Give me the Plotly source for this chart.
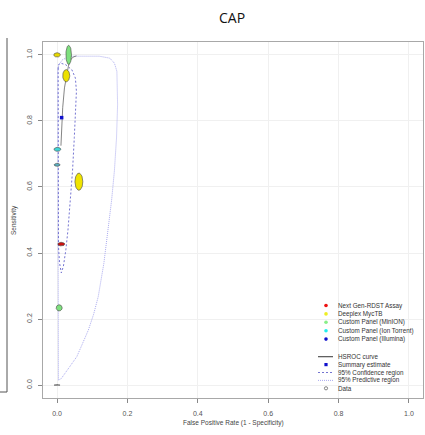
import numpy as np
import plotly.graph_objects as go

# ---------------- data ----------------
study_fpr = [0.012, 0.000, 0.026, 0.062, 0.033, 0.006, 0.001, 0.000, 0.000]
study_sens = [0.427, 1.000, 0.937, 0.616, 1.000, 0.234, 0.714, 0.667, 0.000]
study_rx = [0.0100, 0.0095, 0.0100, 0.0112, 0.0080, 0.0085, 0.0098, 0.0085, 0.0085]
study_ry = [0.0055, 0.0065, 0.0185, 0.0260, 0.0290, 0.0095, 0.0060, 0.0045, 0.0008]
study_fill = ["#cc1111", "#e6d800", "#ece000", "#f0e400", "#7ee07e", "#7ee07e", "#3fd6d6", "#5ab0c0", "#111111"]

summary_fpr = [0.013]
summary_sens = [0.810]

hsroc_fpr = [0.011, 0.013, 0.016, 0.021, 0.027, 0.032, 0.037, 0.045, 0.055]
hsroc_sens = [0.725, 0.78, 0.84, 0.90, 0.94, 0.965, 0.983, 0.993, 0.997]

conf_fpr = [0.003, 0.003, 0.003, 0.004, 0.007, 0.012, 0.018, 0.025, 0.031, 0.037, 0.044, 0.049, 0.052, 0.055, 0.052, 0.042, 0.025, 0.010, 0.004, 0.003]
conf_sens = [0.96, 0.70, 0.48, 0.42, 0.37, 0.34, 0.36, 0.41, 0.47, 0.55, 0.65, 0.75, 0.83, 0.89, 0.93, 0.955, 0.97, 0.975, 0.97, 0.96]

pred_fpr = [0.002, 0.002, 0.002, 0.004, 0.012, 0.023, 0.040, 0.056, 0.072, 0.089, 0.104, 0.117, 0.133, 0.145, 0.155, 0.163, 0.169, 0.172, 0.172, 0.170, 0.163, 0.150, 0.120, 0.080, 0.045, 0.030, 0.015, 0.005, 0.002]
pred_sens = [0.95, 0.50, 0.10, 0.015, 0.020, 0.036, 0.060, 0.086, 0.125, 0.167, 0.215, 0.268, 0.369, 0.47, 0.56, 0.65, 0.75, 0.85, 0.92, 0.95, 0.975, 0.99, 0.996, 0.997, 0.996, 0.993, 0.985, 0.97, 0.95]

tick_vals = [0.0, 0.2, 0.4, 0.6, 0.8, 1.0]
tick_text = ["0.0", "0.2", "0.4", "0.6", "0.8", "1.0"]

legend_groups = ["Next Gen-RDST Assay", "Deeplex MycTB", "Custom Panel (MinION)", "Custom Panel (Ion Torrent)", "Custom Panel (Illumina)"]
legend_colors = ["#ee1111", "#eeee22", "#88ee88", "#22eeee", "#1111cc"]
legend_items = ["HSROC curve", "Summary estimate", "95% Confidence region", "95% Predictive region", "Data"]

# ---------------- figure ----------------
W, H = 425, 435
L, R, T, B = 43, 2, 42, 37
XR = [-0.04, 1.04]
YR = [-0.039, 1.039]

def px(xp):
    return (xp - L) / (W - L - R)

def py(yp):
    return (H - B - yp) / (H - T - B)

PRED_COL = "#a0a0ec"
CONF_COL = "#6464cc"

fig = go.Figure()

fig.add_trace(go.Scatter(x=pred_fpr, y=pred_sens, mode="lines",
                         line=dict(color=PRED_COL, width=0.9, dash="1px,1px"), hoverinfo="skip"))
fig.add_trace(go.Scatter(x=conf_fpr, y=conf_sens, mode="lines",
                         line=dict(color=CONF_COL, width=0.9, dash="2px,2px"), hoverinfo="skip"))
fig.add_trace(go.Scatter(x=hsroc_fpr, y=hsroc_sens, mode="lines",
                         line=dict(color="#666666", width=0.8), hoverinfo="skip"))

t = np.linspace(0, 2 * np.pi, 60)
for cx, cy, rx, ry, col in zip(study_fpr, study_sens, study_rx, study_ry, study_fill):
    fig.add_trace(go.Scatter(x=cx + rx * np.cos(t), y=cy + ry * np.sin(t), mode="lines",
                             fill="toself", fillcolor=col,
                             line=dict(color="#444444", width=0.6), hoverinfo="skip"))

fig.add_trace(go.Scatter(x=summary_fpr, y=summary_sens, mode="markers",
                         marker=dict(symbol="square", size=3.5, color="#1010cc"), hoverinfo="skip"))

axis_common = dict(showline=True, mirror=True, linecolor="#a8a8a8", linewidth=1.2,
                   ticks="outside", ticklen=4, tickcolor="#888888", tickwidth=1,
                   showgrid=True, gridcolor="#f0f0f0", gridwidth=1, zeroline=False,
                   tickvals=tick_vals, ticktext=tick_text,
                   tickfont=dict(family="Liberation Sans, Arial", size=7, color="#555555"))

fig.update_layout(
    width=W, height=H, margin=dict(l=L, r=R, t=T, b=B),
    paper_bgcolor="white", plot_bgcolor="white", showlegend=False,
    xaxis=dict(range=XR, ticklabelstandoff=4, **axis_common),
    yaxis=dict(range=YR, tickangle=-90, ticklabelstandoff=3, **axis_common),
)

annotations = [
    dict(text="CAP", x=px(232), y=py(17), xref="paper", yref="paper", showarrow=False,
         font=dict(family="Open Sans", size=14, color="#111111"), xanchor="center", yanchor="middle"),
    dict(text="False Positive Rate (1 - Specificity)", x=px(233), y=py(423), xref="paper", yref="paper",
         showarrow=False, font=dict(family="Liberation Sans, Arial", size=6.5, color="#444444"),
         xanchor="center", yanchor="middle"),
    dict(text="Sensitivity", x=px(14), y=py(220), xref="paper", yref="paper", textangle=-90,
         showarrow=False, font=dict(family="Liberation Sans, Arial", size=6.5, color="#444444"),
         xanchor="center", yanchor="middle"),
]

shapes = [
    # partial neighbouring panel frame on the left edge
    dict(type="line", xref="paper", yref="paper", x0=px(7), x1=px(7), y0=py(38), y1=py(392),
         line=dict(color="#555555", width=1)),
    dict(type="line", xref="paper", yref="paper", x0=px(-2), x1=px(7), y0=py(392), y1=py(392),
         line=dict(color="#555555", width=1)),
]

mx, tx = 326, 336
fnt = dict(family="Liberation Sans, Arial", size=6.3, color="#333333")
for i, (lab, col) in enumerate(zip(legend_groups, legend_colors)):
    yy = 305.5 + 8.4 * i
    shapes.append(dict(type="circle", xref="paper", yref="paper", x0=px(mx - 1.8), x1=px(mx + 1.8),
                       y0=py(yy + 1.8), y1=py(yy - 1.8), fillcolor=col, line=dict(width=0)))
    annotations.append(dict(text=lab, x=px(tx), y=py(yy), xref="paper", yref="paper", showarrow=False,
                            font=fnt, xanchor="left", yanchor="middle"))

for i, lab in enumerate(legend_items):
    yy = 356.7 + 7.9 * i
    annotations.append(dict(text=lab, x=px(tx), y=py(yy), xref="paper", yref="paper", showarrow=False,
                            font=fnt, xanchor="left", yanchor="middle"))
    if i == 0:
        shapes.append(dict(type="line", xref="paper", yref="paper", x0=px(318), x1=px(333),
                           y0=py(yy), y1=py(yy), line=dict(color="#444444", width=1.1)))
    elif i == 1:
        shapes.append(dict(type="rect", xref="paper", yref="paper", x0=px(mx - 1.6), x1=px(mx + 1.6),
                           y0=py(yy + 1.6), y1=py(yy - 1.6), fillcolor="#1010cc", line=dict(width=0)))
    elif i == 2:
        shapes.append(dict(type="line", xref="paper", yref="paper", x0=px(318), x1=px(333),
                           y0=py(yy), y1=py(yy), line=dict(color=CONF_COL, width=0.9, dash="2px,2px")))
    elif i == 3:
        shapes.append(dict(type="line", xref="paper", yref="paper", x0=px(318), x1=px(333),
                           y0=py(yy), y1=py(yy), line=dict(color=PRED_COL, width=0.9, dash="1px,1px")))
    else:
        shapes.append(dict(type="circle", xref="paper", yref="paper", x0=px(mx - 1.6), x1=px(mx + 1.6),
                           y0=py(yy + 1.6), y1=py(yy - 1.6), fillcolor="rgba(0,0,0,0)",
                           line=dict(color="#555555", width=0.7)))

fig.update_layout(annotations=annotations, shapes=shapes)
fig.write_html("out.html")
